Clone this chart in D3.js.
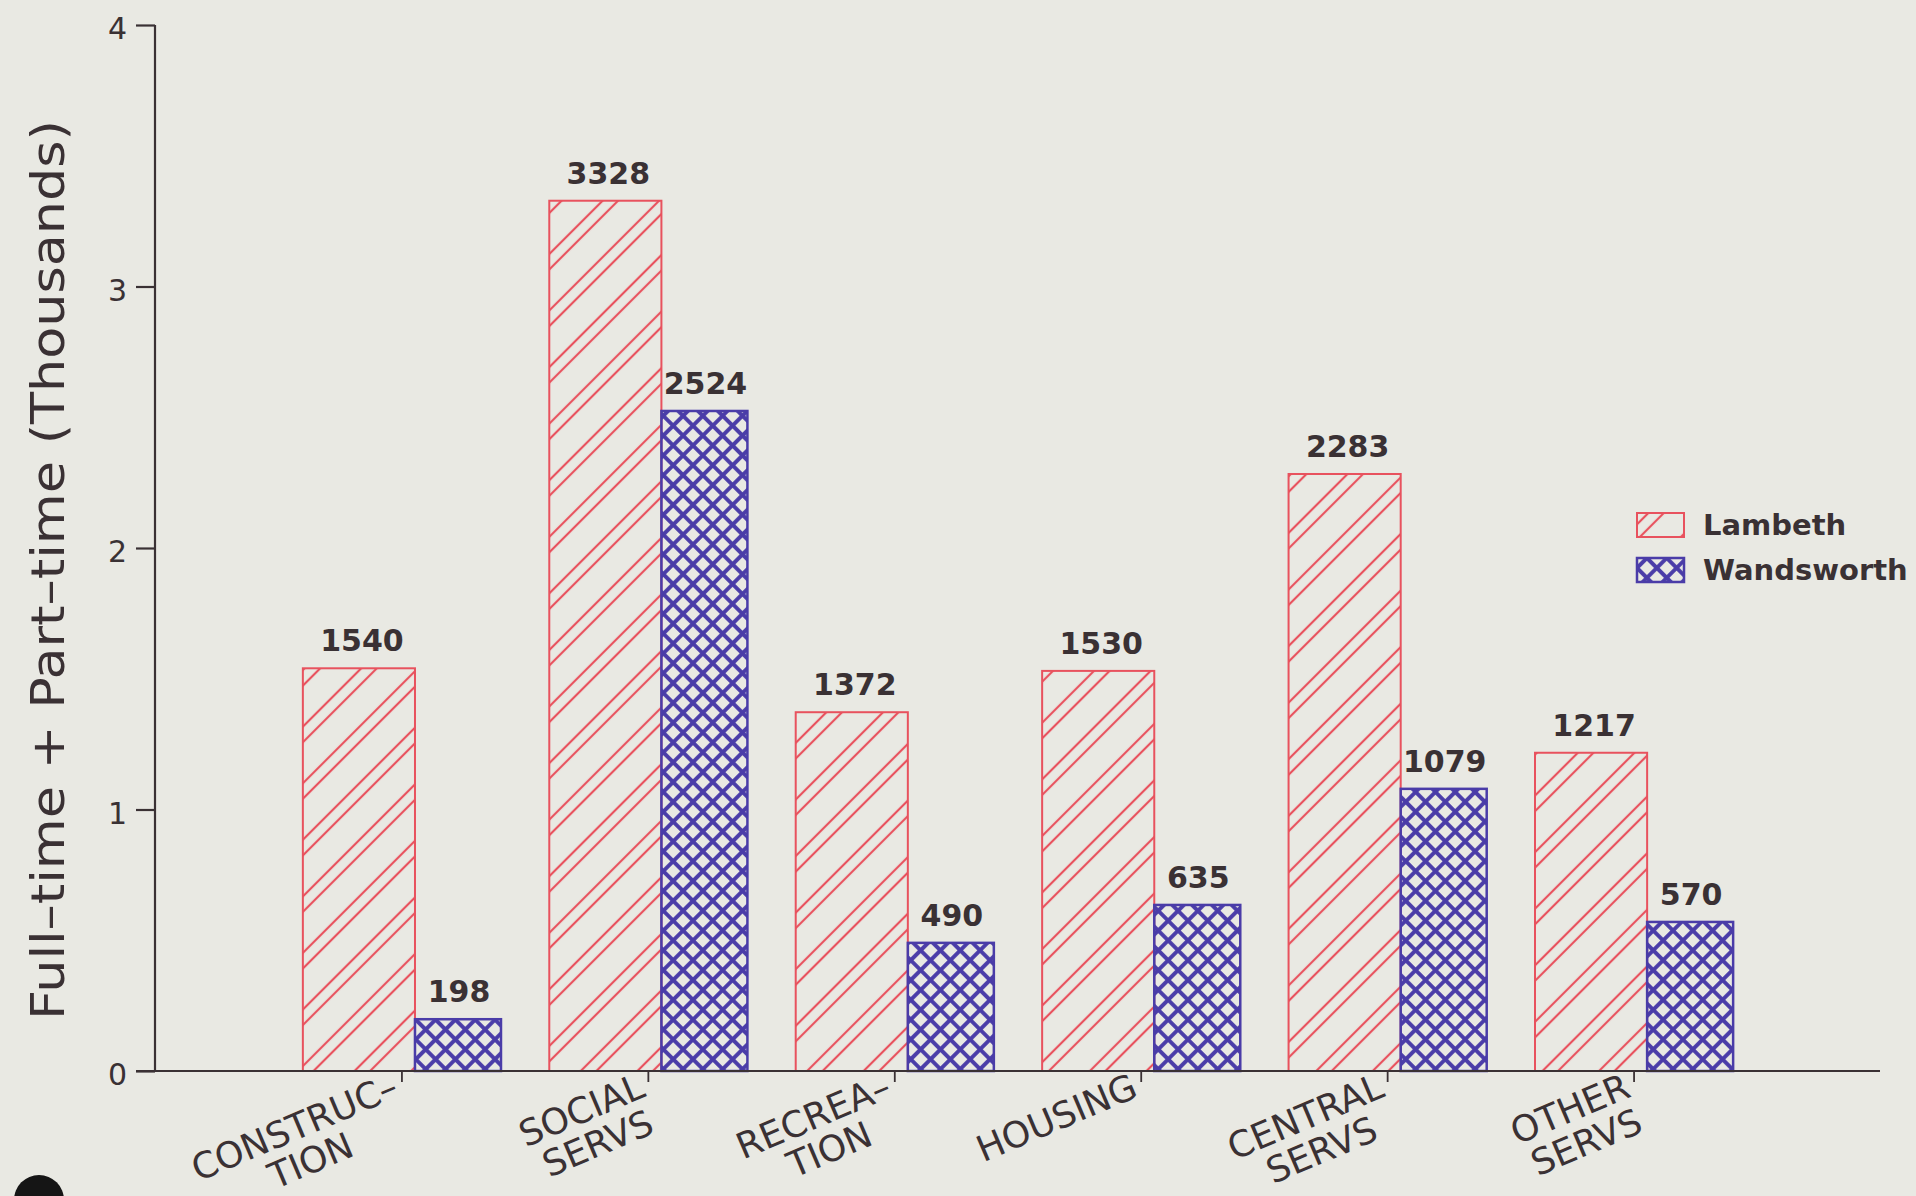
<!DOCTYPE html>
<html>
<head>
<meta charset="utf-8">
<script src="https://cdn.jsdelivr.net/npm/d3@7"></script>
<style>
  html, body { margin: 0; padding: 0; background: #e9e9e3; }
  svg { display: block; }
</style>
</head>
<body>
<script>
// ---- data ----
const categories = ["CONSTRUCTION", "SOCIAL SERVS", "RECREATION", "HOUSING", "CENTRAL SERVS", "OTHER SERVS"];
const categoryLines = [["CONSTRUC–", "TION"], ["SOCIAL", "SERVS"], ["RECREA–", "TION"], ["HOUSING"], ["CENTRAL", "SERVS"], ["OTHER", "SERVS"]];
const seriesNames = ["Lambeth", "Wandsworth"];
const lambeth = [1540, 3328, 1372, 1530, 2283, 1217];
const wandsworth = [198, 2524, 490, 635, 1079, 570];
const yTicks = [0, 1, 2, 3, 4];
const yTitle = "Full–time + Part–time (Thousands)";

// ---- setup ----
const W = 1916, H = 1196;
const ink = "#3a3134";
const red = "#e8525e";
const blue = "#4a3ca8";
const bg = "#e9e9e3";
const font = "'DejaVu Sans', sans-serif";

const svg = d3.select("body").append("svg").attr("width", W).attr("height", H);
svg.append("rect").attr("width", W).attr("height", H).attr("fill", bg);

const defs = svg.append("defs");
// diagonal paired hatch
const hatch = defs.append("pattern").attr("id", "hatch").attr("patternUnits", "userSpaceOnUse")
  .attr("width", 40).attr("height", 40).attr("patternTransform", "rotate(45)");
[8, 19].forEach(px => hatch.append("line").attr("x1", px).attr("y1", 0).attr("x2", px).attr("y2", 40)
  .attr("stroke", red).attr("stroke-width", 2.2));
// crosshatch
const cp = 14;
const cross = defs.append("pattern").attr("id", "cross").attr("patternUnits", "userSpaceOnUse")
  .attr("width", cp).attr("height", cp).attr("patternTransform", "rotate(45)");
cross.append("line").attr("x1", cp / 2).attr("y1", 0).attr("x2", cp / 2).attr("y2", cp).attr("stroke", blue).attr("stroke-width", 3.9);
cross.append("line").attr("x1", 0).attr("y1", cp / 2).attr("x2", cp).attr("y2", cp / 2).attr("stroke", blue).attr("stroke-width", 3.9);

const x = d3.scalePoint().domain(categories).range([155, 1880]).padding(1);
const y = d3.scaleLinear().domain([0, 4]).range([1071, 25]);
const step = x.step();

const series = [
  { name: seriesNames[0], values: lambeth, fill: "url(#hatch)", stroke: red, sw: 2, x0: -0.4, x1: 0.055, lblOff: 3 },
  { name: seriesNames[1], values: wandsworth, fill: "url(#cross)", stroke: blue, sw: 2.5, x0: 0.055, x1: 0.404, lblOff: 1 }
];

// bars
series.forEach(s => {
  const g = svg.append("g");
  g.selectAll("rect").data(categories).join("rect")
    .attr("x", (c) => x(c) + s.x0 * step)
    .attr("width", step * (s.x1 - s.x0))
    .attr("y", (c, i) => y(s.values[i] / 1000))
    .attr("height", (c, i) => y(0) - y(s.values[i] / 1000))
    .attr("fill", s.fill)
    .attr("stroke", s.stroke)
    .attr("stroke-width", s.sw);
  g.selectAll("text").data(categories).join("text")
    .attr("x", (c) => x(c) + (s.x0 + s.x1) / 2 * step + s.lblOff)
    .attr("y", (c, i) => y(s.values[i] / 1000) - 17)
    .attr("text-anchor", "middle")
    .attr("font-family", font).attr("font-weight", "bold").attr("font-size", 30)
    .attr("fill", ink)
    .text((c, i) => s.values[i]);
});

// y axis
const yAxis = svg.append("g").attr("transform", "translate(155,0)")
  .call(d3.axisLeft(y).tickValues(yTicks).tickFormat(d3.format("d")).tickSize(19).tickPadding(9));
yAxis.select(".domain").attr("stroke", ink).attr("stroke-width", 2.2).attr("d", `M0,${y(4)}V${y(0)}`);
yAxis.selectAll(".tick line").attr("stroke", ink).attr("stroke-width", 2.2);
yAxis.selectAll(".tick text").attr("font-family", font).attr("font-size", 30).attr("fill", ink).attr("dy", "0.45em");

// x axis
const xAxis = svg.append("g").attr("transform", `translate(0,${y(0)})`)
  .call(d3.axisBottom(x).tickSize(11).tickFormat(""));
xAxis.select(".domain").attr("stroke", ink).attr("stroke-width", 2.2).attr("d", "M136,0H1880");
xAxis.selectAll(".tick line").attr("stroke", ink).attr("stroke-width", 1.8);

// category labels (rotated)
const angle = -23;
categories.forEach((c, i) => {
  const lines = categoryLines[i];
  const g = svg.append("g").attr("transform", `translate(${x(c) - 1},${y(0) + 25}) rotate(${angle})`);
  const t1 = g.append("text").attr("text-anchor", "end")
    .attr("font-family", font).attr("font-size", 36).attr("fill", ink).text(lines[0]);
  if (lines.length > 1) {
    const w1 = t1.node().getComputedTextLength();
    g.append("text").attr("text-anchor", "middle").attr("x", -w1 / 2 + 2).attr("y", 37)
      .attr("font-family", font).attr("font-size", 36).attr("fill", ink).text(lines[1]);
  }
});

// y title
svg.append("text")
  .attr("transform", "translate(64,570) rotate(-90)")
  .attr("text-anchor", "middle")
  .attr("font-family", font).attr("font-size", 46).attr("fill", ink)
  .attr("textLength", 900).attr("lengthAdjust", "spacingAndGlyphs")
  .text(yTitle);

// legend
const legend = svg.append("g").attr("transform", "translate(1637,513)");
series.forEach((s, i) => {
  const g = legend.append("g").attr("transform", `translate(0,${i * 45})`);
  g.append("rect").attr("width", 47).attr("height", 24)
    .attr("fill", s.fill).attr("stroke", s.stroke).attr("stroke-width", s.sw);
  g.append("text").attr("x", 66).attr("y", 22)
    .attr("font-family", font).attr("font-weight", "bold").attr("font-size", 29).attr("fill", ink)
    .text(s.name);
});

// scan artefact (punch hole)
svg.append("circle").attr("cx", 39).attr("cy", 1200).attr("r", 25).attr("fill", "#151515");
</script>
</body>
</html>
